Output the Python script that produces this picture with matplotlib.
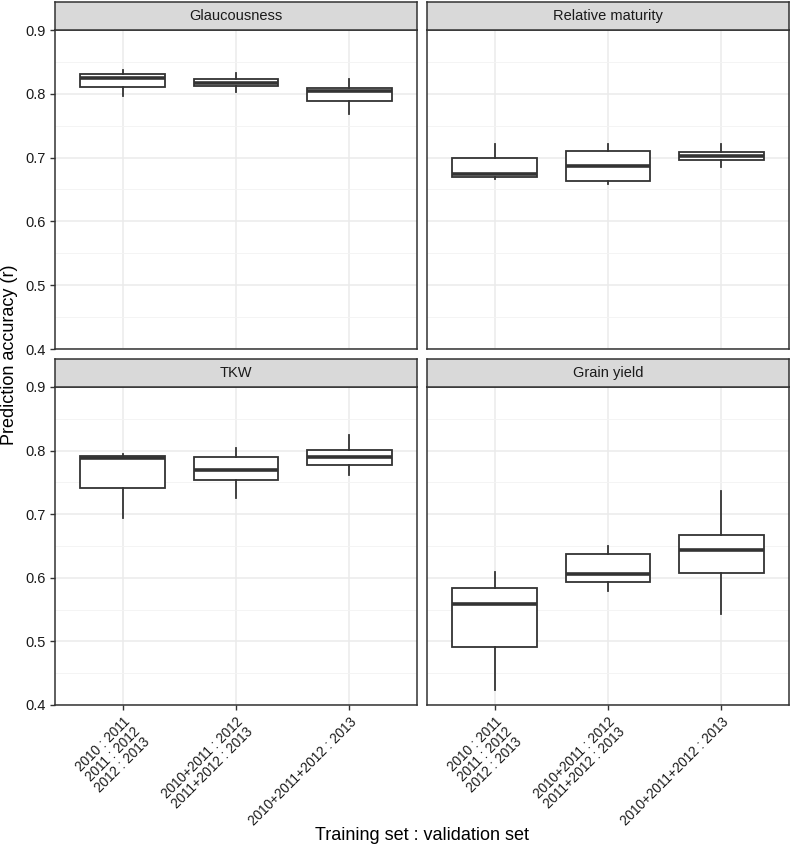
import numpy as np
import matplotlib
matplotlib.use('Agg')
import matplotlib.pyplot as plt
from matplotlib.ticker import MultipleLocator

plt.rcParams['font.family'] = ['Liberation Sans', 'DejaVu Sans']

groups = ['2010 : 2011\n2011 : 2012\n2012 : 2013',
          '2010+2011 : 2012\n2011+2012 : 2013',
          '2010+2011+2012 : 2013']
traits = ['Glaucousness', 'Relative maturity', 'TKW', 'Grain yield']

# box stats per trait: lower whisker, q1, median, q3, upper whisker
glauc_lo = [0.797, 0.803, 0.768]
glauc_q1 = [0.810, 0.813, 0.789]
glauc_med = [0.824, 0.817, 0.805]
glauc_q3 = [0.831, 0.823, 0.809]
glauc_hi = [0.838, 0.832, 0.823]

matur_lo = [0.666, 0.658, 0.686]
matur_q1 = [0.670, 0.663, 0.697]
matur_med = [0.675, 0.687, 0.703]
matur_q3 = [0.699, 0.711, 0.708]
matur_hi = [0.722, 0.721, 0.721]

tkw_lo = [0.694, 0.726, 0.762]
tkw_q1 = [0.741, 0.754, 0.778]
tkw_med = [0.789, 0.769, 0.790]
tkw_q3 = [0.791, 0.790, 0.801]
tkw_hi = [0.794, 0.804, 0.825]

yield_lo = [0.424, 0.579, 0.543]
yield_q1 = [0.491, 0.593, 0.607]
yield_med = [0.559, 0.606, 0.644]
yield_q3 = [0.584, 0.637, 0.667]
yield_hi = [0.609, 0.650, 0.736]

stats_all = [
    (glauc_lo, glauc_q1, glauc_med, glauc_q3, glauc_hi),
    (matur_lo, matur_q1, matur_med, matur_q3, matur_hi),
    (tkw_lo, tkw_q1, tkw_med, tkw_q3, tkw_hi),
    (yield_lo, yield_q1, yield_med, yield_q3, yield_hi),
]

W, H = 792, 849
fig = plt.figure(figsize=(W / 100, H / 100), dpi=100)

def px_axes(x0, y0, x1, y1):
    return fig.add_axes([x0 / W, 1 - y1 / H, (x1 - x0) / W, (y1 - y0) / H])

cols = [(55, 417), (427, 789)]
rows = [((2, 30), (30, 349)), ((359, 387), (387, 705))]
edge = '#333333'

for i, trait in enumerate(traits):
    r, c = divmod(i, 2)
    (sy0, sy1), (ay0, ay1) = rows[r]
    x0, x1 = cols[c]

    ax = px_axes(x0, ay0, x1, ay1)
    lo, q1, med, q3, hi = stats_all[i]
    stats = [dict(whislo=lo[k], q1=q1[k], med=med[k], q3=q3[k], whishi=hi[k], fliers=[])
             for k in range(len(groups))]
    ax.bxp(stats, positions=[1, 2, 3], widths=0.75, showfliers=False, showcaps=False,
           patch_artist=True,
           boxprops=dict(facecolor='white', edgecolor=edge, linewidth=1.3),
           medianprops=dict(color=edge, linewidth=2.6, solid_capstyle='butt'),
           whiskerprops=dict(color=edge, linewidth=1.3))
    ax.set_xlim(0.4, 3.6)
    ax.set_ylim(0.4, 0.9)
    ax.yaxis.set_major_locator(MultipleLocator(0.1))
    ax.yaxis.set_minor_locator(MultipleLocator(0.05))
    ax.grid(True, which='major', color='#EBEBEB', linewidth=1.1)
    ax.grid(True, which='minor', axis='y', color='#F3F3F3', linewidth=0.6)
    ax.set_axisbelow(True)
    for s in ax.spines.values():
        s.set_color(edge)
        s.set_linewidth(1.1)
    ax.tick_params(which='major', length=3.5, color=edge, width=1.0,
                   labelsize=10.5, labelcolor='#1a1a1a')
    ax.tick_params(which='minor', length=0)
    ax.set_xticks([1, 2, 3])
    if c == 0:
        ax.set_yticklabels(['%.1f' % v for v in ax.get_yticks()])
    else:
        ax.tick_params(axis='y', labelleft=False, length=0)
    if r == 1:
        ax.set_xticklabels(groups, rotation=45, ha='right', va='top',
                           rotation_mode='anchor', multialignment='right',
                           fontsize=9.8, linespacing=1.0)
    else:
        ax.tick_params(axis='x', labelbottom=False, length=0)

    sax = px_axes(x0, sy0, x1, sy1)
    sax.set_facecolor('#D9D9D9')
    sax.set_xticks([])
    sax.set_yticks([])
    for s in sax.spines.values():
        s.set_color(edge)
        s.set_linewidth(1.1)
    sax.text(0.5, 0.5, trait, ha='center', va='center', fontsize=10.5,
             color='#1a1a1a', transform=sax.transAxes)

fig.text(422 / W, 1 - 836 / H, 'Training set : validation set', ha='center',
         va='center', fontsize=13)
fig.text(10 / W, 1 - 355 / H, 'Prediction accuracy (r)', ha='center',
         va='center', rotation=90, fontsize=13)

fig.savefig('out.png', dpi=100)
